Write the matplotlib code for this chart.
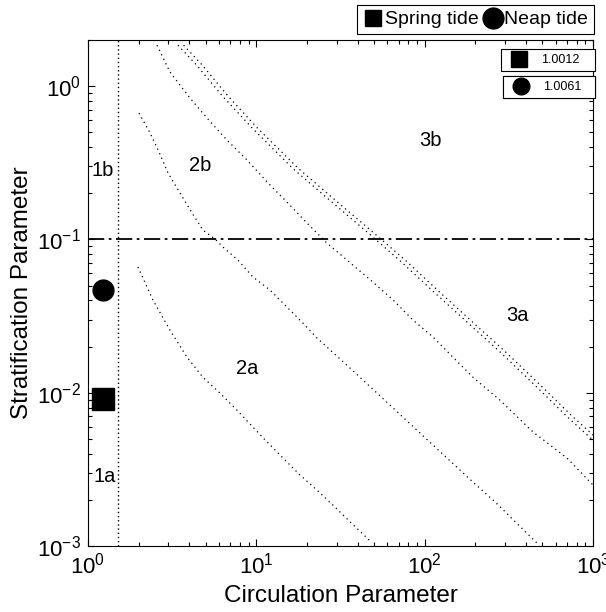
import matplotlib
matplotlib.use('Agg')
from matplotlib import pyplot as plt
from matplotlib.lines import Line2D
from matplotlib.ticker import LogLocator, NullFormatter
import numpy as np

plt.rcParams['font.family'] = 'Liberation Sans'
plt.rcParams['mathtext.fontset'] = 'custom'
plt.rcParams['mathtext.rm'] = 'Liberation Sans'
plt.rcParams['mathtext.it'] = 'Liberation Sans:italic'

# boundary curves (circulation, stratification)
c1_x = [1.98, 2.43, 3.07, 3.87, 4.82, 6.08, 7.67, 9.55, 11.3, 18.2, 22.9, 28.5, 36.0, 48.7]
c1_y = [0.0661, 0.0403, 0.0256, 0.0171, 0.0126, 0.00995, 0.0077, 0.00597, 0.00491, 0.0029, 0.00232, 0.00185, 0.00144, 0.00105]

c2_x = [2.01, 2.34, 2.61, 2.99, 3.52, 4.15, 4.82, 5.68, 6.34, 7.78, 9.55, 12.05, 15.2, 18.9, 22.9, 37.0, 64.0, 112, 194, 262, 471]
c2_y = [0.667, 0.494, 0.383, 0.271, 0.201, 0.149, 0.115, 0.1007, 0.0891, 0.0733, 0.0569, 0.0468, 0.0362, 0.0285, 0.0228, 0.0141, 0.00807, 0.00456, 0.00261, 0.00194, 0.00103]

c3_x = [2.57, 3.07, 4.04, 5.09, 6.69, 8.80, 11.6, 15.2, 20.0, 26.3, 34.6, 49.3, 64.9, 85.3, 112, 147, 194, 280, 440, 701, 1000]
c3_y = [1.85, 1.236, 0.836, 0.620, 0.445, 0.330, 0.237, 0.175, 0.128, 0.0946, 0.0733, 0.0527, 0.0403, 0.0298, 0.0231, 0.0171, 0.0126, 0.00895, 0.00555, 0.00375, 0.0025]

c4_x = [3.42, 4.4, 6.3, 9.5, 16.5, 28.5, 45.0, 71.0, 112, 178, 280, 480, 700, 1000]
c4_y = [1.85, 1.38, 0.86, 0.53, 0.29, 0.173, 0.113, 0.073, 0.046, 0.0290, 0.0185, 0.0105, 0.0070, 0.0049]

c5_x = [3.7, 4.75, 6.8, 10.2, 17.8, 30.8, 48.6, 77.0, 121, 192, 302, 518, 756, 1000]
c5_y = [1.85, 1.38, 0.86, 0.53, 0.29, 0.173, 0.113, 0.073, 0.046, 0.0290, 0.0185, 0.0105, 0.0070, 0.0053]

# estuary points
spring_x, spring_y = 1.22, 0.0091
neap_x, neap_y = 1.22, 0.047
spring_val = '1.0012'
neap_val = '1.0061'

region_labels = ['1b', '1a', '2b', '2a', '3b', '3a']
region_x = [1.23, 1.26, 4.63, 8.8, 107.6, 354]
region_y = [0.283, 0.00286, 0.305, 0.0145, 0.445, 0.0321]

fig = plt.figure(figsize=(6.06, 6.12), dpi=100)
ax = fig.add_axes([0.1452, 0.1078, 0.8333, 0.8268])
ax.set_xscale('log')
ax.set_yscale('log')

dot = (0, (1, 3))
for xs, ys in [(c1_x, c1_y), (c2_x, c2_y), (c3_x, c3_y), (c4_x, c4_y), (c5_x, c5_y)]:
    ax.plot(xs, ys, color='black', lw=0.9, linestyle=dot)

ax.axvline(1.5, color='black', lw=1.0, linestyle=(0, (1, 2)))
ax.axhline(0.1, color='black', lw=1.3, linestyle=(0, (9, 2.5, 1.5, 2.5)))

ax.plot(spring_x, spring_y, 's', color='black', markersize=16.5)
ax.plot(neap_x, neap_y, 'o', color='black', markersize=15)

for lab, lx, ly in zip(region_labels, region_x, region_y):
    ax.text(lx, ly, lab, fontsize=14.5, ha='center', va='center')

ax.set_xlim(1, 1000)
ax.set_ylim(1e-3, 2)
ax.xaxis.set_major_locator(LogLocator(base=10, numticks=10))
ax.yaxis.set_major_locator(LogLocator(base=10, numticks=10))
ax.xaxis.set_minor_locator(LogLocator(base=10, subs=np.arange(2, 10), numticks=20))
ax.yaxis.set_minor_locator(LogLocator(base=10, subs=np.arange(2, 10), numticks=20))
ax.xaxis.set_minor_formatter(NullFormatter())
ax.yaxis.set_minor_formatter(NullFormatter())
ax.tick_params(which='both', direction='in', top=True, right=True, labelsize=16)
ax.tick_params(which='major', length=5, width=0.8)
ax.tick_params(which='minor', length=3, width=0.8)
ax.tick_params(axis='x', pad=5)
ax.tick_params(axis='y', pad=5)
for sp in ax.spines.values():
    sp.set_linewidth(0.8)

ax.set_xlabel('Circulation Parameter', fontsize=17.5)
ax.set_ylabel('Stratification Parameter', fontsize=17.5)
ax.xaxis.set_label_coords(0.5, -0.078)
ax.yaxis.set_label_coords(-0.109, 0.5)

# small value boxes in the corner
leg1 = ax.legend(handles=[Line2D([], [], marker='s', color='black', ls='none', markersize=11)],
                 labels=[spring_val], loc='upper left', bbox_to_anchor=(0.818, 0.9365, 0.186, 0.0455),
                 mode='expand', fontsize=9, fancybox=False, edgecolor='black', framealpha=1,
                 borderaxespad=0, borderpad=0.4, handlelength=2.0, handletextpad=0.8)
leg1.get_frame().set_linewidth(0.8)
ax.add_artist(leg1)
leg2 = ax.legend(handles=[Line2D([], [], marker='o', color='black', ls='none', markersize=12)],
                 labels=[neap_val], loc='upper left', bbox_to_anchor=(0.822, 0.8835, 0.182, 0.0455),
                 mode='expand', fontsize=9, fancybox=False, edgecolor='black', framealpha=1,
                 borderaxespad=0, borderpad=0.4, handlelength=2.0, handletextpad=0.8)
leg2.get_frame().set_linewidth(0.8)
ax.add_artist(leg2)

# top legend outside the axes
h_spring = Line2D([], [], marker='s', color='black', ls='none', markersize=12.2)
h_neap = Line2D([], [], marker='o', color='black', ls='none', markersize=15)
top_leg = fig.legend(handles=[h_spring, h_neap], labels=['Spring tide', 'Neap tide'],
                     loc='upper right', bbox_to_anchor=(0.980, 0.992), ncol=2,
                     fontsize=14, fancybox=False, edgecolor='black', framealpha=1,
                     borderaxespad=0, borderpad=0.3, handlelength=1.08,
                     handletextpad=0.05, columnspacing=0.18)
top_leg.get_frame().set_linewidth(0.8)

fig.savefig('out.png', dpi=100)
